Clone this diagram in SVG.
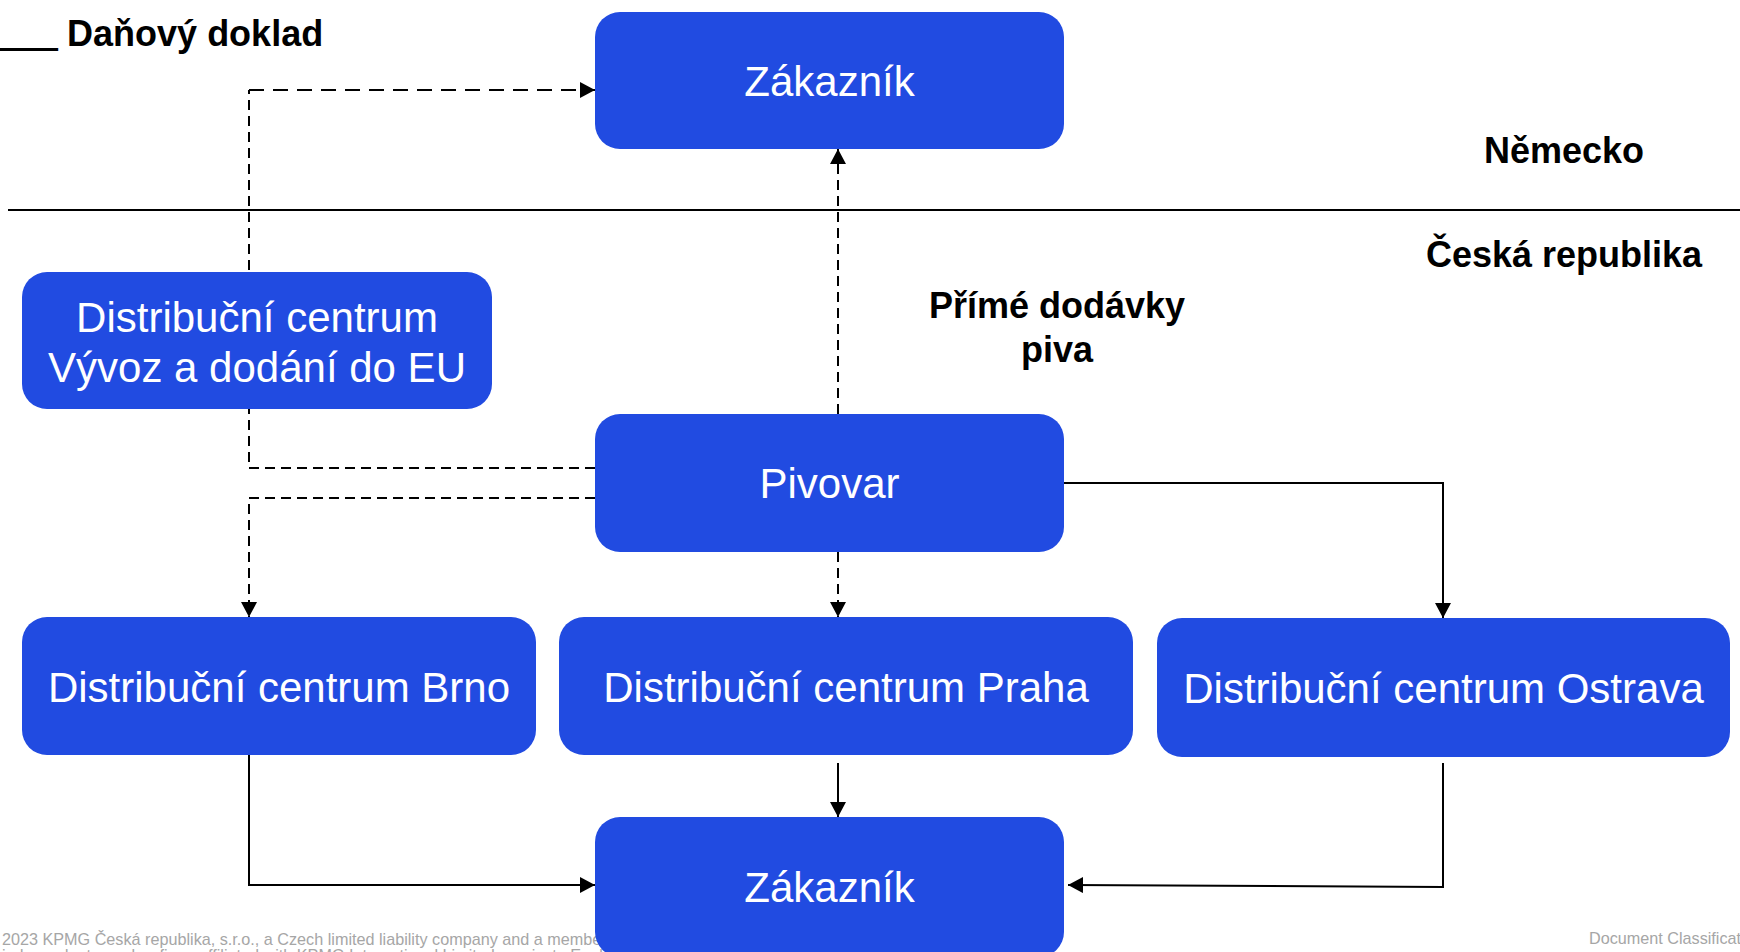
<svg xmlns="http://www.w3.org/2000/svg" width="1740" height="952" viewBox="0 0 1740 952">
  <style>
    .node rect { fill: #214be1; }
    .node text { fill: #ffffff; font-family: "Liberation Sans", Arial, sans-serif; font-size: 42px; text-anchor: middle; }
    .label { fill: #000000; font-family: "Liberation Sans", Arial, sans-serif; font-size: 36px; font-weight: bold; }
    .footer { fill: #a6a6a6; font-family: "Liberation Sans", Arial, sans-serif; font-size: 16.2px; }
    .conn { fill: none; stroke: #000000; stroke-width: 2; }
    .dash { stroke-dasharray: 10 6; }
  </style>
  <defs>
    <marker id="arrow" markerUnits="userSpaceOnUse" markerWidth="16" markerHeight="16" refX="15" refY="8" orient="auto">
      <path d="M0,0 L15,8 L0,16 Z" fill="#000000"/>
    </marker>
  </defs>
  <rect width="1740" height="952" fill="#ffffff"/>

  <g id="footer">
    <text class="footer" x="2" y="945">2023 KPMG Česká republika, s.r.o., a Czech limited liability company and a member firm of the KPMG global organization of</text>
    <text class="footer" x="2" y="961">independent member firms affiliated with KPMG International Limited, a private English company limited by guarantee. All rights reserved.</text>
    <text class="footer" x="1589" y="944">Document Classification: KPMG Public</text>
  </g>

  <g id="separator">
    <line x1="8" y1="210" x2="1740" y2="210" stroke="#000000" stroke-width="2"/>
  </g>

  <g id="labels">
    <text class="label" x="-3" y="46"><tspan stroke="#000000" stroke-width="1.6">___</tspan> Daňový doklad</text>
    <text class="label" x="1564" y="163" text-anchor="middle">Německo</text>
    <text class="label" x="1564" y="267" text-anchor="middle">Česká republika</text>
    <text class="label" x="1057" y="318" text-anchor="middle">Přímé dodávky</text>
    <text class="label" x="1057" y="362" text-anchor="middle">piva</text>
  </g>

  <g id="connectors">
    <path class="conn dash" d="M595,468 L249,468 L249,90"/>
    <path class="conn" d="M249,90 L595,90" stroke-dasharray="15 9" marker-end="url(#arrow)"/>
    <path class="conn dash" d="M595,498 L249,498 L249,617" marker-end="url(#arrow)"/>
    <path class="conn dash" d="M838,414 L838,149" marker-end="url(#arrow)"/>
    <path class="conn dash" d="M838,552 L838,617" marker-end="url(#arrow)"/>
    <path class="conn" d="M1064,483 L1443,483 L1443,618" marker-end="url(#arrow)"/>
    <path class="conn" d="M249,755 L249,885 L595,885" marker-end="url(#arrow)"/>
    <path class="conn" d="M838,763 L838,817" marker-end="url(#arrow)"/>
    <path class="conn" d="M1443,763 L1443,887 L1068,885" marker-end="url(#arrow)"/>
  </g>

  <g id="zakaznik-de" class="node">
    <rect x="595" y="12" width="469" height="137" rx="25"/>
    <text x="829.5" y="96">Zákazník</text>
  </g>
  <g id="dc-eu" class="node">
    <rect x="22" y="272" width="470" height="137" rx="25"/>
    <text x="257" y="332">Distribuční centrum</text>
    <text x="257" y="382">Vývoz a dodání do EU</text>
  </g>
  <g id="pivovar" class="node">
    <rect x="595" y="414" width="469" height="138" rx="25"/>
    <text x="829.5" y="498">Pivovar</text>
  </g>
  <g id="dc-brno" class="node">
    <rect x="22" y="617" width="514" height="138" rx="25"/>
    <text x="279" y="702">Distribuční centrum Brno</text>
  </g>
  <g id="dc-praha" class="node">
    <rect x="559" y="617" width="574" height="138" rx="25"/>
    <text x="846" y="702">Distribuční centrum Praha</text>
  </g>
  <g id="dc-ostrava" class="node">
    <rect x="1157" y="618" width="573" height="139" rx="25"/>
    <text x="1443.5" y="703">Distribuční centrum Ostrava</text>
  </g>
  <g id="zakaznik-cz" class="node">
    <rect x="595" y="817" width="469" height="140" rx="25"/>
    <text x="829.5" y="902">Zákazník</text>
  </g>
</svg>
